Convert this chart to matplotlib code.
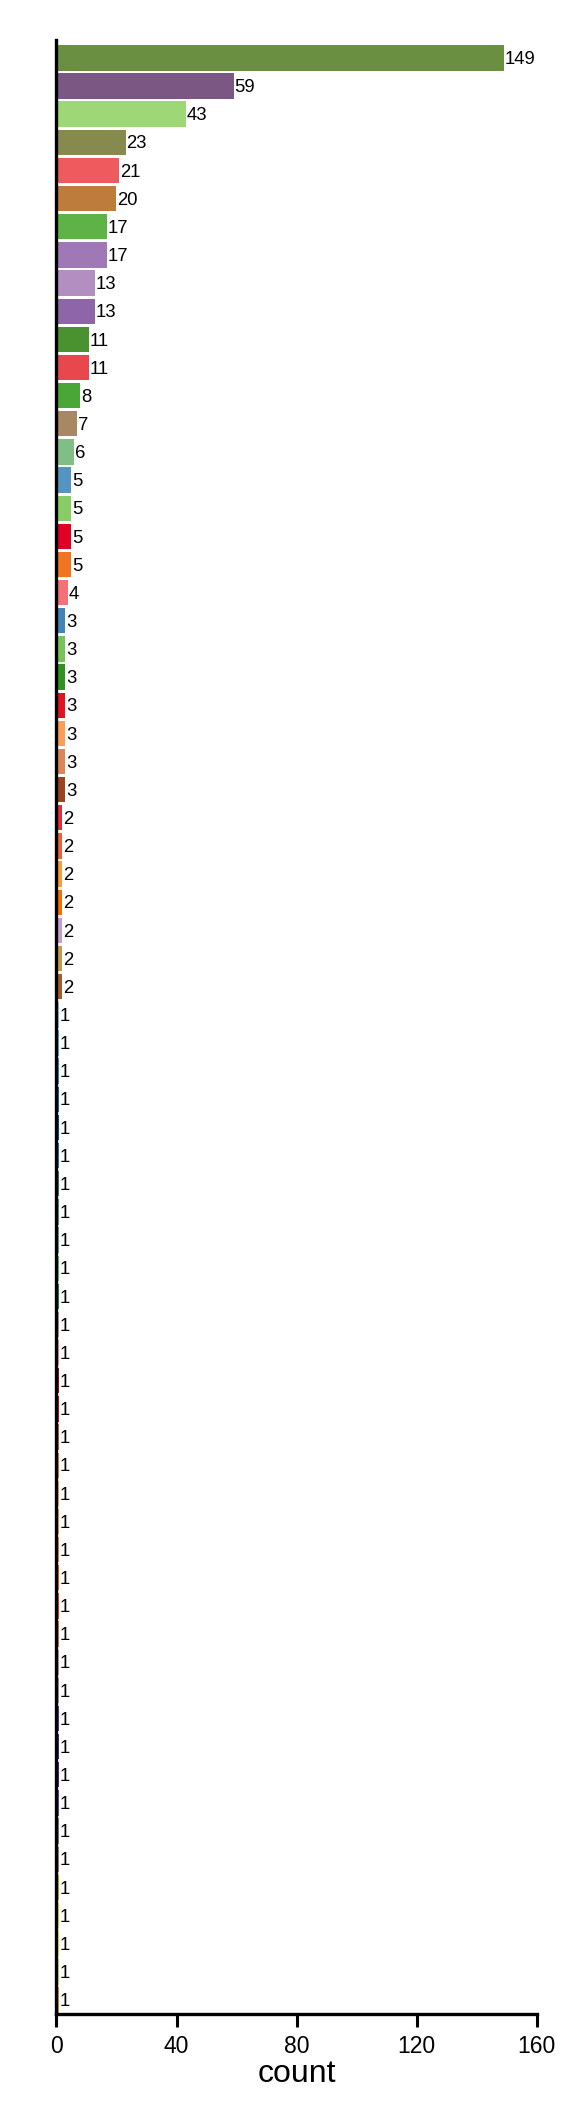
import matplotlib
matplotlib.use("Agg")
import matplotlib.pyplot as plt

plt.rcParams['font.family'] = ['Liberation Sans', 'DejaVu Sans']

counts = [149, 59, 43, 23, 21, 20, 17, 17, 13, 13, 11, 11, 8, 7, 6,
          5, 5, 5, 5, 4,
          3, 3, 3, 3, 3, 3, 3,
          2, 2, 2, 2, 2, 2, 2] + [1] * 36

colors = [
    '#6a8f41', '#7b5784', '#9ed876', '#878a4e', '#ee5b5f', '#bd7b3c',
    '#5db346', '#a078b5', '#b28ec1', '#8f65aa', '#4a9130', '#e8474e',
    '#4aa637', '#a88862', '#80be86', '#5594c0', '#88cc66', '#df0023',
    '#f07522', '#f47277', '#4284b8', '#78c25a', '#339122', '#e21220',
    '#fb9e58', '#d9875a', '#9b4320', '#e32d3c', '#ee5f3c', '#fd9a3c',
    '#fb6a00', '#c3a0cb', '#c49a4f', '#a45b2f',
    # the 36 one-count bars
    '#9ecae1', '#6baed6', '#4292c6', '#2171b5', '#08519c', '#3182bd',
    '#41807a', '#5f9e8f', '#74a98f', '#74c476', '#238b45', '#c49c94',
    '#e7969c', '#a50f15', '#cb181d', '#d6604d', '#e6873c', '#fdae6b',
    '#f0a050', '#fd8d3c', '#f16913', '#e6550d', '#d08050', '#c7a3a8',
    '#b09aa8', '#5e3c99', '#4a2e8a', '#54278f', '#6a51a3', '#8c7c8c',
    '#a09070', '#bcbd22', '#e7e73a', '#f0f060', '#dbdb8d', '#d4a030',
]

xticks = [0, 40, 80, 120, 160]

fig = plt.figure(figsize=(5.76, 21.12), dpi=100)
ax = fig.add_axes([0.098, 0.0465, 0.834, 0.9345])

pos = list(range(len(counts)))
ax.barh(pos, counts, height=0.9, color=colors)
for p, c in zip(pos, counts):
    ax.text(c + 0.2, p + 0.06, str(c), va='center', ha='left', fontsize=13.3)

ax.set_xlim(0, 160)
ax.set_ylim(69.49, -0.63)
ax.set_xticks(xticks)
ax.set_yticks([])
ax.tick_params(axis='x', length=9, width=2.2, labelsize=16.5, pad=6)
ax.set_xlabel('count', fontsize=23, labelpad=1)

for s in ['top', 'right']:
    ax.spines[s].set_visible(False)
for s in ['left', 'bottom']:
    ax.spines[s].set_linewidth(2.4)

fig.savefig('out.png', dpi=100)
